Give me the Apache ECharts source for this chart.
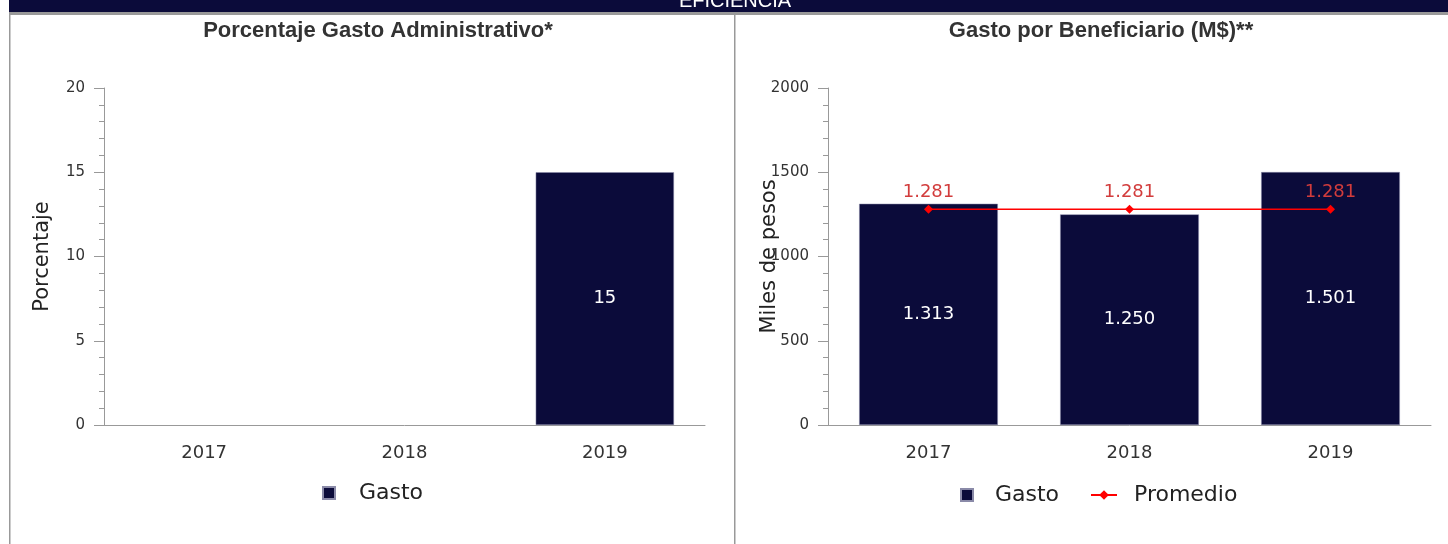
<!DOCTYPE html>
<html>
<head>
<meta charset="utf-8">
<title>Eficiencia</title>
<script src="https://cdn.jsdelivr.net/npm/echarts@6/dist/echarts.min.js"></script>
<style>
  html, body { margin: 0; padding: 0; background: #fff; }
  #main { width: 1448px; height: 544px; }
</style>
</head>
<body>
<div id="main"></div>
<script>
// datos del grafico
var years = ['2017', '2018', '2019'];
var gastoAdm = [null, null, 15];          // porcentaje gasto administrativo
var gastoBenef = [1313, 1250, 1501];      // gasto por beneficiario (M$)
var promedio = [1281, 1281, 1281];
var ticksPct = [0, 5, 10, 15, 20];
var ticksMiles = [0, 500, 1000, 1500, 2000];

var navy = '#0b0b3a';
var fontChart = 'DejaVu Sans';

// separador de miles con punto
function fmt(v) {
    return String(v).replace(/\B(?=(\d{3})+(?!\d))/g, '.');
}

function yAxis(idx, ticks, name, gap) {
    return {
        type: 'value',
        gridIndex: idx,
        min: ticks[0],
        max: ticks[ticks.length - 1],
        interval: ticks[1] - ticks[0],
        name: name,
        nameLocation: 'middle',
        nameGap: gap,
        nameMoveOverlap: false,
        nameTextStyle: { fontFamily: fontChart, fontSize: 21, color: '#222' },
        axisLine: { show: true, lineStyle: { color: '#999', width: 1 } },
        axisTick: { show: true, length: 10, lineStyle: { color: '#999' } },
        minorTick: { show: true, splitNumber: 5, length: 5, lineStyle: { color: '#999' } },
        splitLine: { show: false },
        axisLabel: { fontFamily: fontChart, fontSize: 15, color: '#333', margin: 19, formatter: function (v) { return String(v); } }
    };
}

function xAxis(idx) {
    return {
        type: 'category',
        gridIndex: idx,
        data: years,
        axisLine: { lineStyle: { color: '#999', width: 1 } },
        axisTick: { show: false },
        axisLabel: { fontFamily: fontChart, fontSize: 18, color: '#333', margin: 19 }
    };
}

function legendItem(name, left, top, w, h, icon, pad) {
    return {
        data: [{ name: name, icon: icon }],
        left: left, top: top,
        itemWidth: w, itemHeight: h,
        textStyle: { fontFamily: fontChart, fontSize: 22, color: '#222', padding: [0, 0, 0, pad] }
    };
}

var myChart = echarts.init(document.getElementById('main'));

var option = {
    animation: false,
    backgroundColor: '#fff',
    graphic: [
        { type: 'rect', shape: { x: 9, y: 0, width: 1439, height: 12 }, style: { fill: navy } },
        { type: 'text', x: 735, y: 1, style: { text: 'EFICIENCIA', fill: '#fff', font: '20px "Liberation Sans"', align: 'center', verticalAlign: 'middle' } },
        { type: 'rect', shape: { x: 9, y: 12, width: 1439, height: 3 }, style: { fill: '#999' } },
        { type: 'rect', shape: { x: 9, y: 15, width: 1.5, height: 529 }, style: { fill: '#999' } },
        { type: 'rect', shape: { x: 734, y: 15, width: 1.5, height: 529 }, style: { fill: '#999' } },
        { type: 'text', x: 378, y: 31, style: { text: 'Porcentaje Gasto Administrativo*', fill: '#333', font: 'bold 22px "Liberation Sans"', align: 'center', verticalAlign: 'middle' } },
        { type: 'text', x: 1101, y: 31, style: { text: 'Gasto por Beneficiario (M$)**', fill: '#333', font: 'bold 22px "Liberation Sans"', align: 'center', verticalAlign: 'middle' } }
    ],
    grid: [
        { left: 104, right: 743, top: 88, bottom: 119 },
        { left: 828, right: 17, top: 88, bottom: 119 }
    ],
    legend: [
        legendItem('Gasto', 317, 477, 12, 12, 'rect', 19),
        legendItem('Gasto', 955, 479, 12, 12, 'rect', 17),
        legendItem('Promedio', 1085, 479, 26, 12, undefined, 12)
    ],
    xAxis: [xAxis(0), xAxis(1)],
    yAxis: [yAxis(0, ticksPct, 'Porcentaje', 51), yAxis(1, ticksMiles, 'Miles de pesos', 48)],
    series: [
        {
            name: 'Gasto',
            type: 'bar',
            xAxisIndex: 0, yAxisIndex: 0,
            data: gastoAdm,
            barWidth: '69%',
            itemStyle: { color: navy, borderColor: '#8a8aa8', borderWidth: 0.5 },
            label: { show: true, position: 'inside', color: '#fff', fontFamily: fontChart, fontSize: 18, formatter: function (p) { return fmt(p.value); } }
        },
        {
            name: 'Gasto',
            type: 'bar',
            xAxisIndex: 1, yAxisIndex: 1,
            data: gastoBenef,
            barWidth: '69%',
            itemStyle: { color: navy, borderColor: '#8a8aa8', borderWidth: 0.5 },
            label: { show: true, position: 'inside', color: '#fff', fontFamily: fontChart, fontSize: 18, formatter: function (p) { return fmt(p.value); } }
        },
        {
            name: 'Promedio',
            type: 'line',
            xAxisIndex: 1, yAxisIndex: 1,
            data: promedio,
            symbol: 'diamond',
            symbolSize: 9,
            lineStyle: { color: '#ff0000', width: 1.5 },
            itemStyle: { color: '#ff0000' },
            label: { show: true, position: 'top', distance: 3, color: '#d23c3c', fontFamily: fontChart, fontSize: 18, formatter: function (p) { return fmt(p.value); } }
        }
    ]
};

myChart.setOption(option);
</script>
</body>
</html>
